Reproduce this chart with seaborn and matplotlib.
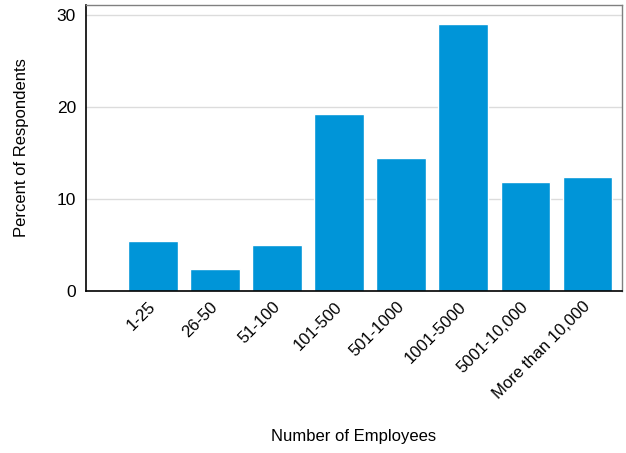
import matplotlib

matplotlib.use("Agg")
import matplotlib.pyplot as plt
import matplotlib.transforms as mtransforms
import pandas as pd
import seaborn as sns

CATEGORIES = [
    "1-25",
    "26-50",
    "51-100",
    "101-500",
    "501-1000",
    "1001-5000",
    "5001-10,000",
    "More than 10,000",
]
PERCENTS = [5.4, 2.4, 5.0, 19.2, 14.5, 29.0, 11.8, 12.4]
Y_TICKS = [0, 10, 20, 30]

BAR_COLOR = "#0095d8"

sns.set_theme(style="white")
plt.rcParams["font.family"] = ["Liberation Sans", "DejaVu Sans"]
plt.rcParams["text.color"] = "black"
plt.rcParams["axes.labelcolor"] = "black"

df = pd.DataFrame({"employees": CATEGORIES, "percent": PERCENTS})

fig = plt.figure(figsize=(6.26, 4.53), dpi=100)
ax = fig.add_axes([0.137, 0.358, 0.857, 0.631])

sns.barplot(data=df, x="employees", y="percent", color=BAR_COLOR,
            saturation=1, width=0.8, ax=ax)

ax.set_xlim(-1.08, 7.56)
ax.set_ylim(0, 31.1)
ax.set_yticks(Y_TICKS)
ax.yaxis.grid(True, color="#dcdcdc", linewidth=1)
ax.set_axisbelow(True)

ax.tick_params(axis="y", labelsize=12.5, colors="black", length=0, pad=7)
ax.tick_params(axis="x", labelsize=12, colors="black", length=0, pad=6)
# nudge the slanted labels a few pixels left, like the original
shift = mtransforms.ScaledTranslation(-5 / 100, 0, fig.dpi_scale_trans)
for label in ax.get_xticklabels():
    label.set_rotation(45)
    label.set_ha("right")
    label.set_rotation_mode("anchor")
    label.set_transform(label.get_transform() + shift)

ax.set_xlabel("Number of Employees", fontsize=12, labelpad=19)
ax.set_ylabel("Percent of Respondents", fontsize=12, labelpad=20)

for side in ["left", "bottom"]:
    ax.spines[side].set_color("black")
    ax.spines[side].set_linewidth(1.2)
for side in ["top", "right"]:
    ax.spines[side].set_color("#808080")
    ax.spines[side].set_linewidth(1.0)

fig.savefig("out.png", dpi=100)
